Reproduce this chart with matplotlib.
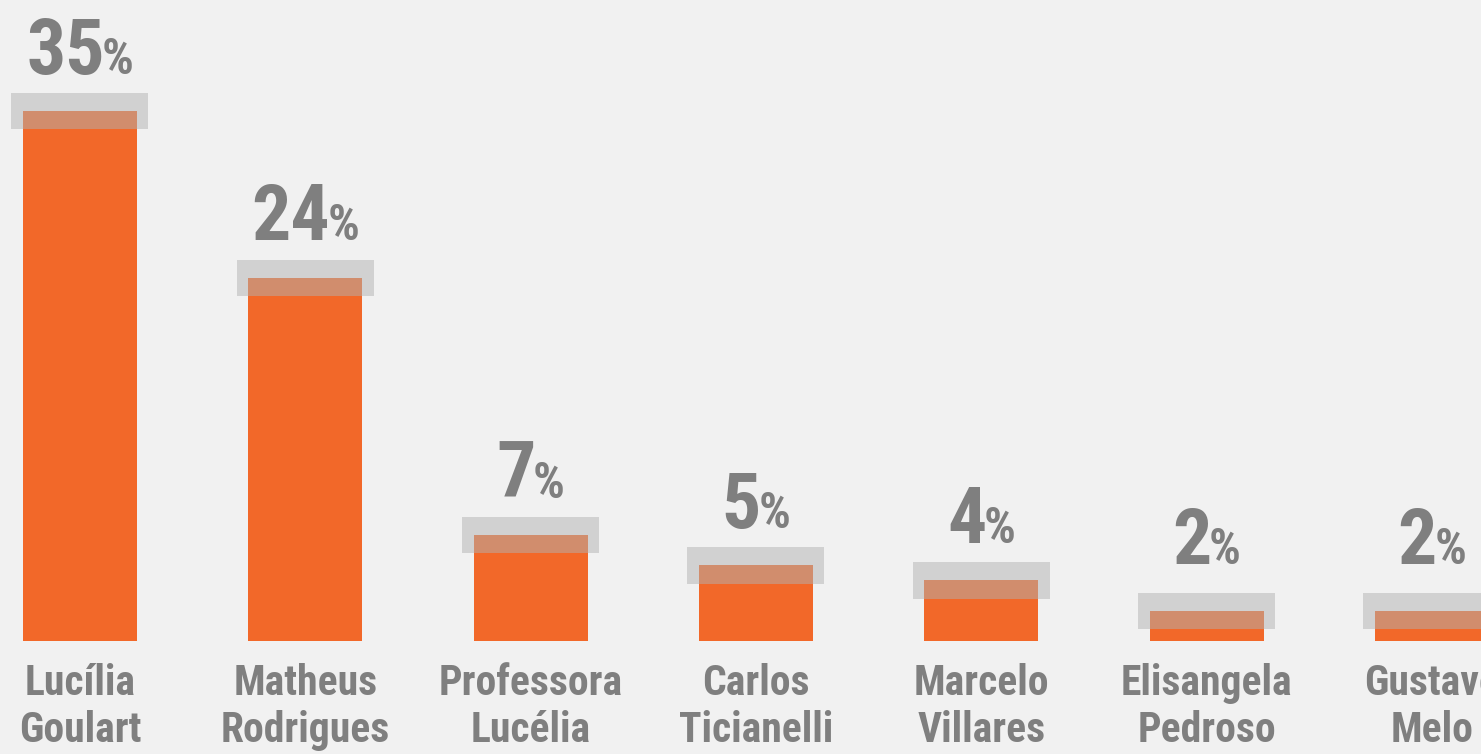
import matplotlib.pyplot as plt
from matplotlib import font_manager

# dados da pesquisa
candidatos = ["Lucília\nGoulart", "Matheus\nRodrigues", "Professora\nLucélia",
              "Carlos\nTicianelli", "Marcelo\nVillares", "Elisangela\nPedroso",
              "Gustavo\nMelo"]
percentuais = [35, 24, 7, 5, 4, 2, 2]
margem = 1.2  # margem de erro (pontos percentuais)

FUNDO = "#f1f1f1"
LARANJA = "#f26829"
CINZA_TXT = "#7f7f7f"

nomes = [f.name for f in font_manager.fontManager.ttflist]
familia = ["Roboto Condensed", "Liberation Sans Narrow", "DejaVu Sans"]
familia = [f for f in familia if f in nomes] or ["DejaVu Sans"]

fig = plt.figure(figsize=(14.81, 7.54), dpi=100, facecolor=FUNDO)
ax = fig.add_axes([0, 0, 1, 1])
ax.set_facecolor(FUNDO)

xs = range(len(percentuais))
ax.bar(xs, percentuais, width=0.506, color=LARANJA, zorder=2)
# faixa cinza da margem de erro, por cima da barra
ax.bar(xs, [2 * margem] * len(percentuais),
       bottom=[p - margem for p in percentuais],
       width=0.608, color="#b2b2b2", alpha=0.5, zorder=3)

ax.set_xlim(-0.355, 6.218)
ax.set_ylim(-7.46, 42.34)
ax.axis("off")

renderer = fig.canvas.get_renderer()
for x, p, nome in zip(xs, percentuais, candidatos):
    dy = 27 if p > 3 else 34
    t1 = ax.annotate(str(p), (x, p), xytext=(0, dy), textcoords="offset points",
                     ha="center", va="baseline", fontsize=56, fontweight="bold",
                     color=CINZA_TXT, family=familia)
    t2 = ax.annotate("%", (x, p), xytext=(0, dy), textcoords="offset points",
                     ha="left", va="baseline", fontsize=36, fontweight="bold",
                     color=CINZA_TXT, family=familia)
    w1 = t1.get_window_extent(renderer).width * 72 / fig.dpi
    w2 = t2.get_window_extent(renderer).width * 72 / fig.dpi
    ajuste = 2  # aproxima o % dos numeros
    t1.set_position((-(w2 - ajuste) / 2, dy))
    t2.set_position((w1 / 2 - (w2 - ajuste) / 2 - ajuste, dy))

    ax.annotate(nome, (x, 0), xytext=(0, -16), textcoords="offset points",
                ha="center", va="top", fontsize=30, fontweight="bold",
                color=CINZA_TXT, family=familia, linespacing=1.17)

fig.savefig("out.png", dpi=100, facecolor=FUNDO)
